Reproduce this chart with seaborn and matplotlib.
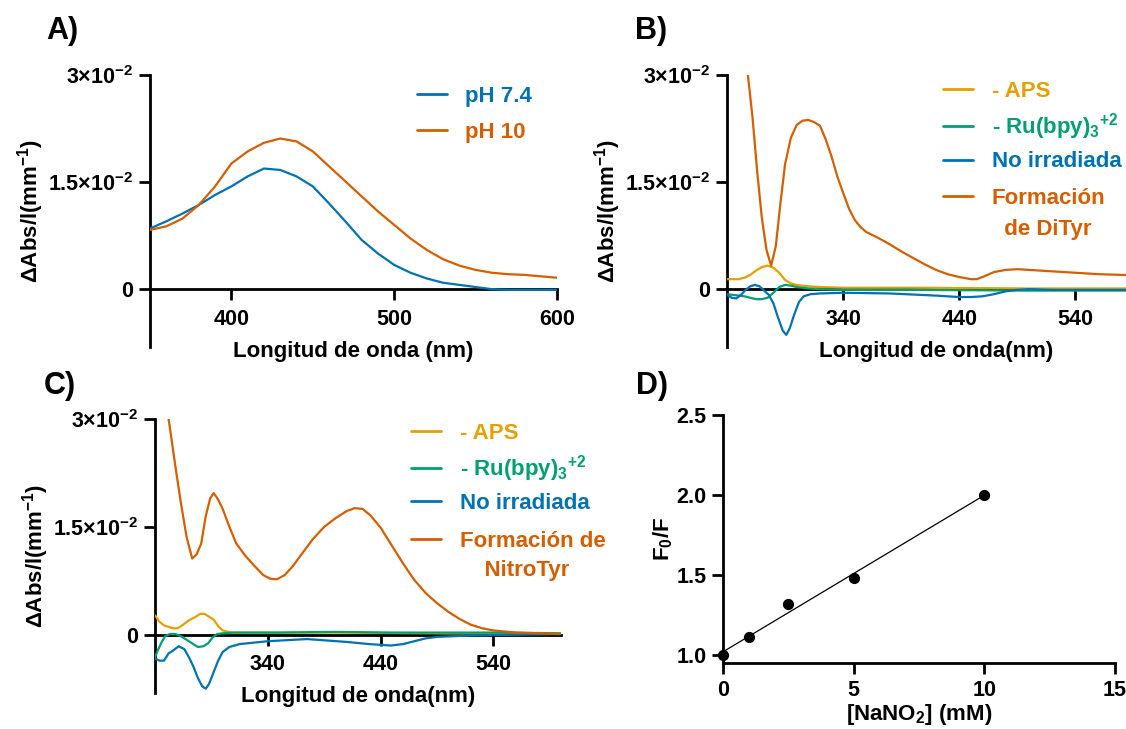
import numpy as np
import pandas as pd
import matplotlib
matplotlib.use('Agg')
import matplotlib.pyplot as plt
from matplotlib.lines import Line2D
import seaborn as sns

# ---------------- DATA ----------------
# Panel A
A_wl = [350, 360, 370, 380, 390, 400, 410, 420, 430, 440, 450, 460, 470, 480, 490,
        500, 510, 520, 530, 540, 550, 560, 570, 580, 590, 600]
A_ph74 = [0.0085, 0.0095, 0.0106, 0.0118, 0.0132, 0.0144, 0.0158, 0.0169, 0.0167, 0.0158,
          0.0144, 0.0120, 0.0095, 0.0069, 0.0050, 0.0034, 0.0023, 0.0015, 0.0009, 0.0006,
          0.0003, 0.0000, -0.0001, -0.0001, -0.0001, -0.0001]
A_ph10 = [0.0083, 0.0088, 0.0099, 0.0118, 0.0144, 0.0176, 0.0193, 0.0205, 0.0211, 0.0207,
          0.0193, 0.0172, 0.0151, 0.0130, 0.0109, 0.0090, 0.0071, 0.0055, 0.0042, 0.0033,
          0.0027, 0.0023, 0.0021, 0.0020, 0.0018, 0.0016]

# Panel B
B_dityr_wl = [250, 258, 262, 266, 270, 274, 278, 282, 286, 290, 295, 300, 305, 310, 315,
              320, 325, 330, 335, 340, 345, 350, 355, 360, 370, 380, 390, 400, 410, 420,
              430, 440, 450, 455, 460, 470, 480, 490, 500, 520, 540, 560, 580, 600]
B_dityr = [0.0400, 0.0300, 0.0240, 0.0165, 0.0100, 0.0055, 0.0033, 0.0060, 0.0120, 0.0175,
           0.0212, 0.0230, 0.0236, 0.0237, 0.0234, 0.0229, 0.0210, 0.0186, 0.0158, 0.0135,
           0.0113, 0.0097, 0.0087, 0.0080, 0.0072, 0.0063, 0.0053, 0.0044, 0.0035, 0.0027,
           0.0021, 0.0017, 0.0014, 0.0014, 0.0017, 0.0024, 0.0027, 0.0028, 0.0027, 0.0025,
           0.0023, 0.0021, 0.0020, 0.0019]
B_aps_wl = [240, 250, 255, 260, 265, 270, 275, 280, 285, 290, 295, 300, 310, 320, 340, 400, 500, 600]
B_aps = [0.0014, 0.0014, 0.0016, 0.0020, 0.0026, 0.0031, 0.0033, 0.0030, 0.0023, 0.0013,
         0.0008, 0.0006, 0.0004, 0.0003, 0.0002, 0.0002, 0.0001, 0.0001]
B_ru_wl = [240, 245, 250, 255, 260, 265, 270, 275, 280, 285, 290, 295, 300, 310, 320, 340, 400, 500, 600]
B_ru = [-0.0007, -0.0008, -0.0009, -0.0010, -0.0012, -0.0014, -0.0014, -0.0012, -0.0005, 0.0003,
        0.0006, 0.0005, 0.0003, 0.0001, 0.0000, -0.0001, -0.0001, -0.0002, -0.0002]
B_noirr_wl = [240, 244, 248, 252, 256, 260, 264, 268, 272, 276, 280, 284, 288, 291, 294, 298,
              302, 306, 312, 320, 340, 380, 420, 440, 450, 460, 470, 480, 490, 500, 520, 600]
B_noirr = [-0.0008, -0.0012, -0.0013, -0.0008, -0.0001, 0.0004, 0.0006, 0.0004, -0.0002, -0.0008,
           -0.0020, -0.0040, -0.0058, -0.0064, -0.0055, -0.0035, -0.0018, -0.0010, -0.0007, -0.0006,
           -0.0005, -0.0006, -0.0009, -0.0011, -0.0011, -0.0010, -0.0007, -0.0003, -0.0001, 0.0000,
           -0.0001, -0.0001]

# Panel C
C_nitro_wl = [250, 253, 258, 263, 268, 273, 277, 281, 285, 289, 292, 296, 300, 306, 312, 320,
              328, 336, 342, 348, 355, 362, 370, 380, 390, 400, 410, 417, 424, 431, 440, 450,
              460, 470, 480, 490, 500, 510, 520, 530, 540, 560, 580, 600]
C_nitro = [0.0320, 0.0290, 0.0235, 0.0183, 0.0136, 0.0106, 0.0112, 0.0127, 0.0165, 0.0190,
           0.0197, 0.0188, 0.0175, 0.0150, 0.0127, 0.0110, 0.0096, 0.0083, 0.0078, 0.0077,
           0.0083, 0.0095, 0.0112, 0.0133, 0.0150, 0.0162, 0.0172, 0.0176, 0.0175, 0.0166,
           0.0149, 0.0124, 0.0099, 0.0076, 0.0058, 0.0044, 0.0032, 0.0022, 0.0014, 0.0009,
           0.0006, 0.0003, 0.0002, 0.0001]
C_aps_wl = [240, 244, 248, 252, 256, 260, 265, 270, 275, 280, 284, 288, 292, 296, 300, 305,
            310, 330, 400, 500, 560, 600]
C_aps = [0.0027, 0.0018, 0.0013, 0.0011, 0.0009, 0.0009, 0.0014, 0.0020, 0.0024, 0.0029,
         0.0029, 0.0025, 0.0021, 0.0012, 0.0006, 0.0004, 0.0003, 0.0003, 0.0003, 0.0002,
         0.0002, 0.0001]
C_ru_wl = [240, 243, 246, 249, 253, 258, 263, 268, 273, 278, 283, 287, 291, 295, 300, 310,
           350, 400, 450, 500, 550, 600]
C_ru = [-0.0031, -0.0020, -0.0010, -0.0002, 0.0001, 0.0001, -0.0002, -0.0007, -0.0012, -0.0017,
        -0.0016, -0.0012, -0.0004, 0.0001, 0.0002, 0.0003, 0.0003, 0.0004, 0.0003, 0.0003,
        0.0003, 0.0002]
C_noirr_wl = [240, 244, 248, 252, 256, 261, 266, 270, 274, 278, 282, 285, 288, 292, 296, 300,
              306, 315, 340, 375, 410, 430, 449, 460, 470, 480, 490, 520, 560, 600]
C_noirr = [-0.0033, -0.0036, -0.0036, -0.0026, -0.0022, -0.0016, -0.0020, -0.0031, -0.0044, -0.0060,
           -0.0072, -0.0075, -0.0068, -0.0052, -0.0036, -0.0024, -0.0017, -0.0013, -0.0009, -0.0006,
           -0.0010, -0.0013, -0.0015, -0.0013, -0.0009, -0.0005, -0.0003, -0.0001, 0.0000, 0.0001]

# Panel D
D_conc = [0, 1, 2.5, 5, 10]
D_ratio = [1.00, 1.11, 1.32, 1.48, 2.00]

# Labels
Y_TICKS = [0, 0.015, 0.03]
Y_TICKLABELS = ['0', '1.5×10$^{-2}$', '3×10$^{-2}$']
Y_LABEL = 'ΔAbs/l(mm$^{-1}$)'
LBL_RU = '- Ru(bpy)$_{3}{}^{+2}$'
LBL_DITYR = ['Formación', '  de DiTyr']
LBL_NITRO = ['Formación de', '    NitroTyr']

# ---------------- STYLE ----------------
sns.set_theme(style='ticks')
plt.rcParams['font.family'] = ['Liberation Sans', 'DejaVu Sans']
plt.rcParams['font.weight'] = 'bold'
plt.rcParams['axes.labelweight'] = 'bold'
plt.rcParams['text.color'] = 'black'
plt.rcParams['axes.labelcolor'] = 'black'
plt.rcParams['xtick.color'] = 'black'
plt.rcParams['ytick.color'] = 'black'
plt.rcParams['mathtext.fontset'] = 'custom'
plt.rcParams['mathtext.rm'] = 'Liberation Sans:bold'
plt.rcParams['mathtext.bf'] = 'Liberation Sans:bold'
plt.rcParams['mathtext.it'] = 'Liberation Sans:bold'
plt.rcParams['mathtext.default'] = 'bf'

BLUE = '#0072B2'
ORANGE = '#D55E00'
YELLOW = '#E69F00'
GREEN = '#009E73'
FS_TICK = 15.5
FS_LAB = 16
FS_LEG = 16
LW = 1.6
SPW = 2.0

W, H = 1126, 729
fig = plt.figure(figsize=(W / 100, H / 100), dpi=100)


def px_axes(left, right, top, bottom):
    return fig.add_axes([left / W, 1 - bottom / H, (right - left) / W, (bottom - top) / H])


def style_common(ax, xpad):
    for s in ['top', 'right']:
        ax.spines[s].set_visible(False)
    for s in ['left', 'bottom']:
        ax.spines[s].set_linewidth(SPW)
        ax.spines[s].set_color('black')
    ax.tick_params(width=SPW, length=8, labelsize=FS_TICK, direction='out', colors='black')
    ax.tick_params(axis='x', pad=xpad)
    ax.tick_params(axis='y', pad=4)


def style_spec(ax, xlim, xticks, xlabel):
    ax.set_xlim(*xlim)
    ax.set_ylim(-0.0081, 0.03)
    style_common(ax, 6)
    ax.spines['bottom'].set_position(('data', 0))
    ax.set_yticks(Y_TICKS)
    ax.set_yticklabels(Y_TICKLABELS)
    ax.set_xticks(xticks)
    for lab in ax.get_xticklabels() + ax.get_yticklabels():
        lab.set_fontweight('bold')
    ax.set_ylabel(Y_LABEL, fontsize=FS_LAB, fontweight='bold', labelpad=1.5)
    ax.set_xlabel(xlabel, fontsize=FS_LAB, fontweight='bold', labelpad=8)


def make_legend(ax, handles, labels, colors, anchor, spacing):
    leg = ax.legend(handles, labels, loc='upper left', bbox_to_anchor=anchor, frameon=False,
                    fontsize=FS_LEG, handlelength=1.35, handletextpad=0.85,
                    labelspacing=spacing, borderpad=0, borderaxespad=0)
    for t, c in zip(leg.get_texts(), colors):
        t.set_color(c)
        t.set_fontweight('bold')
    for ln in leg.get_lines():
        ln.set_linewidth(2)
    return leg


def spectral_legends(ax, long_label, anchor1, anchor2, spacing2):
    hs, ls = ax.get_legend_handles_labels()
    leg1 = make_legend(ax, hs[:3], ls[:3], [YELLOW, GREEN, BLUE], anchor1, 0.42)
    ax.add_artist(leg1)
    blank = Line2D([], [], color='none')
    make_legend(ax, [hs[3], blank], long_label, [ORANGE, ORANGE], anchor2, spacing2)


# ---------------- PANEL A ----------------
axA = px_axes(150, 557, 75, 347)
sns.lineplot(x=A_wl, y=A_ph74, ax=axA, color=BLUE, lw=LW, label='pH 7.4', zorder=3)
sns.lineplot(x=A_wl, y=A_ph10, ax=axA, color=ORANGE, lw=LW, label='pH 10', zorder=3)
style_spec(axA, (350, 600), [400, 500, 600], 'Longitud de onda (nm)')
hA, lA = axA.get_legend_handles_labels()
make_legend(axA, hA, lA, [BLUE, ORANGE], (0.655, 0.961), 0.68)

# ---------------- PANEL B ----------------
axB = px_axes(727, 1145, 75, 347)
sns.lineplot(x=B_aps_wl, y=B_aps, ax=axB, color=YELLOW, lw=LW, label='- APS', zorder=3)
sns.lineplot(x=B_ru_wl, y=B_ru, ax=axB, color=GREEN, lw=LW, label=LBL_RU, zorder=3)
sns.lineplot(x=B_noirr_wl, y=B_noirr, ax=axB, color=BLUE, lw=LW, label='No irradiada', zorder=3)
sns.lineplot(x=B_dityr_wl, y=B_dityr, ax=axB, color=ORANGE, lw=LW, label=LBL_DITYR[0], zorder=3)
style_spec(axB, (240, 600), [340, 440, 540], 'Longitud de onda(nm)')
spectral_legends(axB, LBL_DITYR, (0.517, 0.979), (0.517, 0.586), 0.45)

# ---------------- PANEL C ----------------
axC = px_axes(155, 561, 419, 693)
sns.lineplot(x=C_aps_wl, y=C_aps, ax=axC, color=YELLOW, lw=LW, label='- APS', zorder=3)
sns.lineplot(x=C_ru_wl, y=C_ru, ax=axC, color=GREEN, lw=LW, label=LBL_RU, zorder=3)
sns.lineplot(x=C_noirr_wl, y=C_noirr, ax=axC, color=BLUE, lw=LW, label='No irradiada', zorder=3)
sns.lineplot(x=C_nitro_wl, y=C_nitro, ax=axC, color=ORANGE, lw=LW, label=LBL_NITRO[0], zorder=3)
style_spec(axC, (240, 600), [340, 440, 540], 'Longitud de onda(nm)')
spectral_legends(axC, LBL_NITRO, (0.63, 0.987), (0.63, 0.593), 0.36)

# ---------------- PANEL D ----------------
axD = px_axes(723, 1115, 415, 663)
dfD = pd.DataFrame({'conc': D_conc, 'ratio': D_ratio})
sns.regplot(data=dfD, x='conc', y='ratio', ax=axD, ci=None, color='black',
            scatter_kws=dict(s=65, color='black', alpha=1, zorder=4, clip_on=False, linewidths=0),
            line_kws=dict(color='black', lw=0.9))
axD.set_xlim(0, 15)
axD.set_ylim(0.95, 2.5)
axD.set_xticks([0, 5, 10, 15])
axD.set_yticks([1.0, 1.5, 2.0, 2.5])
axD.set_yticklabels(['1.0', '1.5', '2.0', '2.5'])
style_common(axD, 4)
for lab in axD.get_xticklabels() + axD.get_yticklabels():
    lab.set_fontweight('bold')
axD.set_xlabel('[NaNO$_{2}$] (mM)', fontsize=FS_LAB, fontweight='bold', labelpad=1)
axD.set_ylabel('F$_{0}$/F', fontsize=FS_LAB, fontweight='bold', labelpad=1)

# ---------------- PANEL LETTERS ----------------
for letter, (x, y) in {'A)': (62, 31), 'B)': (651, 31), 'C)': (60, 386), 'D)': (652, 386)}.items():
    fig.text(x / W, 1 - y / H, letter, fontsize=22, fontweight='bold', ha='center', va='center')

fig.savefig('out.png', dpi=100)
